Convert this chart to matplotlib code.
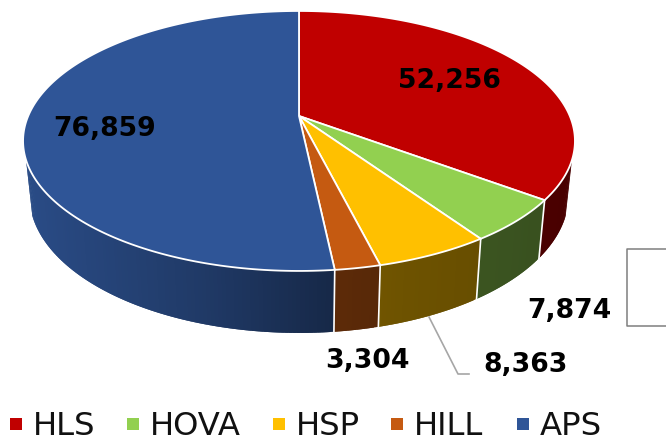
import numpy as np
import matplotlib
matplotlib.use("Agg")
import matplotlib.pyplot as plt

names = ["HLS", "HOVA", "HSP", "HILL", "APS"]
values = [52256, 7874, 8363, 3304, 76859]
value_labels = ["52,256", "7,874", "8,363", "3,304", "76,859"]
colors = ["#C00000", "#92D050", "#FFC000", "#C55A11", "#2F5597"]

# pixel layout of the tilted disc
CX, CY = 299, 116
A, B, K = 270.8, 125.2, 0.192
SX, SY, LOW = 0.977, 1.056, 169.3


def top_rim(theta):
    # theta is clockwise from 12 o'clock, perspective squeezes the far side
    u = np.sin(theta)
    v = -np.cos(theta)
    w = 1 - K * v
    return CX + A * u / w, CY + B * v / w


def low_rim(theta):
    x, y = top_rim(theta)
    return CX + SX * (x - CX), LOW + SY * (y - CY)


def side_shade(x):
    return np.interp(x, [30, 200, 335, 400, 570], [0.88, 0.68, 0.47, 0.43, 0.38])


def darken(color, f):
    return tuple(c * f for c in matplotlib.colors.to_rgb(color))


fig = plt.figure(figsize=(6.66, 4.37), dpi=100)
ax = fig.add_axes([0, 0, 1, 1])
ax.set_xlim(0, 666)
ax.set_ylim(437, 0)
ax.axis("off")

edges = np.cumsum([0] + values) / sum(values) * 2 * np.pi
side_from = np.radians(109.2)
side_to = np.radians(250.8)

# side wall, strips overlap the next one so no seams show through
for i in range(len(values)):
    a0 = max(edges[i], side_from)
    a1 = min(edges[i + 1], side_to)
    if a1 <= a0:
        continue
    steps = np.linspace(a0, a1, max(3, int((a1 - a0) * 80)))
    for j in range(len(steps) - 1):
        t0 = steps[j]
        t1 = steps[min(j + 2, len(steps) - 1)]
        tt = np.linspace(t0, t1, 4)
        x0, y0 = top_rim(tt)
        x1, y1 = low_rim(tt)
        c = darken(colors[i], side_shade(x0.mean()))
        ax.fill(np.r_[x0, x1[::-1]], np.r_[y0, y1[::-1]], color=c, lw=0, zorder=1)

# white lines on the wall where slices meet
for e in edges[1:-1]:
    if side_from < e < side_to:
        x0, y0 = top_rim(e)
        x1, y1 = low_rim(e)
        ax.plot([x0, x1], [y0, y1], color="white", lw=1.2, zorder=2)

# top of the pie
for i in range(len(values)):
    t = np.linspace(edges[i], edges[i + 1], 200)
    x, y = top_rim(t)
    ax.fill(np.r_[CX, x], np.r_[CY, y], facecolor=colors[i], edgecolor="white",
            lw=1.3, joinstyle="round", zorder=3)

# data labels
ax.text(449, 81, value_labels[0], fontsize=19.2, fontweight="bold", ha="center", va="center", zorder=5)
ax.text(569.5, 311, value_labels[1], fontsize=19.2, fontweight="bold", ha="center", va="center", zorder=5)
ax.text(525.5, 365, value_labels[2], fontsize=19.2, fontweight="bold", ha="center", va="center", zorder=5)
ax.text(367.5, 361, value_labels[3], fontsize=19.2, fontweight="bold", ha="center", va="center", zorder=5)
ax.text(105, 129, value_labels[4], fontsize=19.2, fontweight="bold", ha="center", va="center", zorder=5)

# leader line for HSP and the box cut off at the right
ax.plot([429, 458, 469], [317, 374, 374], color="#A6A6A6", lw=1.2, zorder=2)
ax.plot([667, 627, 627, 667], [249, 249, 326, 326], color="#7F7F7F", lw=1.1, zorder=2)

# legend
swatch_x = [10, 127, 273, 391, 517]
text_x = [33, 150, 296, 414, 540]
for i in range(len(names)):
    ax.fill([swatch_x[i], swatch_x[i] + 12, swatch_x[i] + 12, swatch_x[i]],
            [418, 418, 430, 430], color=colors[i], lw=0)
    ax.text(text_x[i], 435, names[i], fontsize=23.2, ha="left", va="baseline", color="#111111")

fig.savefig("out.png", dpi=100)
